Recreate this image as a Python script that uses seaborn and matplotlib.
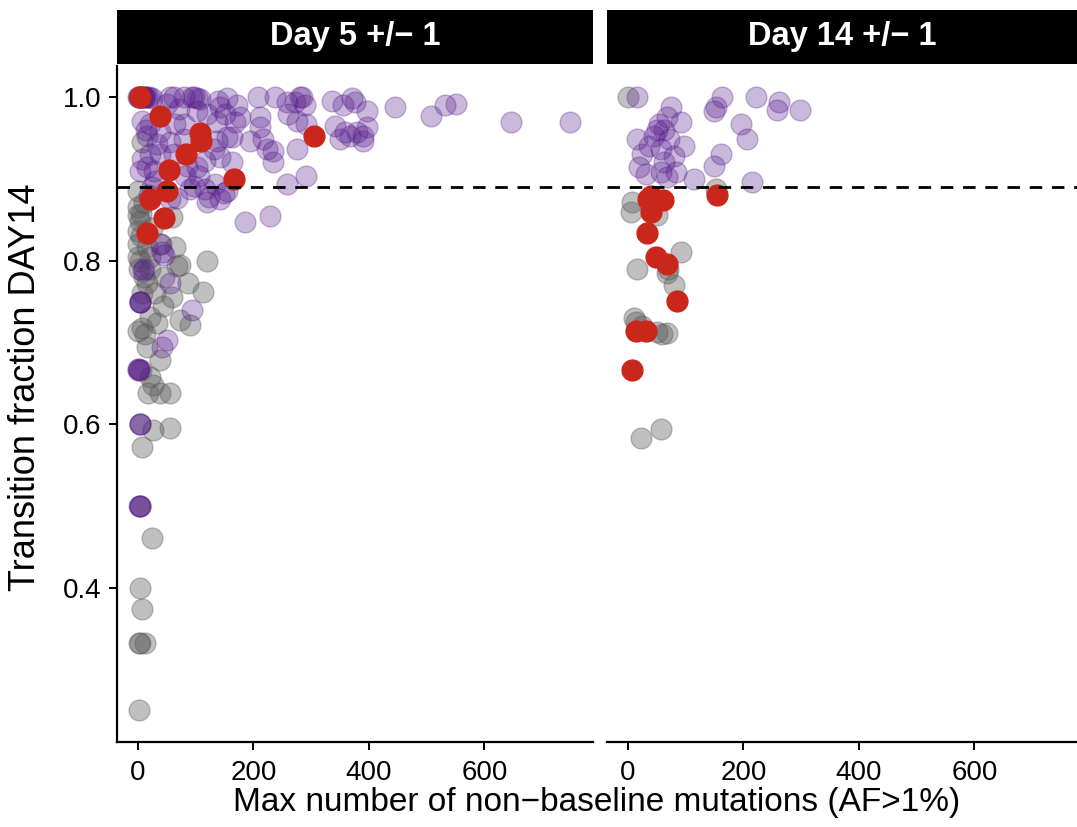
import matplotlib
matplotlib.use("Agg")
import matplotlib.pyplot as plt
from matplotlib.patches import Rectangle
import seaborn as sns
import pandas as pd

# ---------------- data ----------------
panels = ["Day 5 +/\u2212 1", "Day 14 +/\u2212 1"]
threshold = 0.89

# Day 5 panel
d5_grey_x = [0, 0, 0, 3, 0, 0, 0, 16, 64, 59, 119, 2, 21, 73, 3, 21, 68, 16, 87, 113, 59, 43, 21, 73, 90,
             7, 33, 16, 38, 21, 26, 17, 38, 55, 26, 55, 7, 24, 3, 7, 3, 12, 2, 0, 5, 10, 5, 10, 8, 30,
             45, 40, 25, 12, 8, 3, 4, 2, 4, 6]
d5_grey_y = [0.885, 0.865, 0.856, 0.848, 0.836, 0.82, 0.805, 0.816, 0.816, 0.853, 0.799, 0.79, 0.79, 0.795,
             0.8, 0.805, 0.793, 0.773, 0.773, 0.762, 0.755, 0.744, 0.731, 0.728, 0.721, 0.718, 0.724, 0.695,
             0.679, 0.658, 0.648, 0.638, 0.638, 0.638, 0.593, 0.596, 0.572, 0.461, 0.4, 0.375, 0.333, 0.333,
             0.251, 0.714, 0.857, 0.87, 0.83, 0.78, 0.76, 0.76, 0.78, 0.82, 0.84, 0.71, 0.945, 0.6, 0.5,
             0.333, 0.75, 0.667]

d5_purple_x = [0, 2, 4, 6, 8, 10, 13, 16, 20, 24, 55, 62, 80, 93, 97, 102, 107, 50, 71, 102, 119, 138, 142,
               151, 154, 171, 168, 137, 177, 208, 237, 258, 272, 280, 284, 289, 260, 275, 292, 336, 355,
               370, 376, 396, 445, 508, 531, 551, 646, 748, 341, 358, 367, 379, 390, 396, 350, 390, 211,
               211, 194, 216, 234, 234, 223, 275, 163, 292, 258, 185, 229, 21, 16, 38, 64, 80, 33, 55, 80,
               137, 154, 132, 142, 163, 116, 102, 85, 21, 7, 38, 62, 16, 28, 3, 81, 106, 97, 116, 133, 123,
               149, 29, 68, 24, 19, 38, 10, 45, 42, 9, 55, 3, 4, 94, 50, 42, 0, 2, 3, 2, 3, 119, 142, 90,
               154, 55, 3, 2, 1, 3, 3, 2, 5, 10, 14, 8]
d5_purple_y = [1.0, 1.0, 1.0, 1.0, 1.0, 1.0, 1.0, 1.0, 1.0, 0.998, 1.0, 1.0, 1.0, 1.0, 1.0, 0.998, 0.997,
               0.991, 0.985, 0.983, 0.979, 0.995, 0.988, 0.979, 0.998, 0.99, 0.969, 0.969, 0.975, 1.0, 1.0,
               0.994, 0.994, 1.0, 1.0, 0.99, 0.979, 0.97, 0.967, 0.995, 0.99, 0.998, 0.994, 0.983, 0.988,
               0.977, 0.99, 0.991, 0.969, 0.969, 0.964, 0.957, 0.952, 0.957, 0.952, 0.963, 0.948, 0.946,
               0.975, 0.963, 0.946, 0.948, 0.934, 0.92, 0.936, 0.936, 0.951, 0.903, 0.893, 0.847, 0.854,
               0.967, 0.952, 0.957, 0.967, 0.967, 0.942, 0.945, 0.948, 0.946, 0.951, 0.936, 0.926, 0.92,
               0.921, 0.914, 0.915, 0.93, 0.924, 0.93, 0.93, 0.914, 0.909, 0.909, 0.903, 0.903, 0.891,
               0.887, 0.893, 0.878, 0.883, 0.897, 0.877, 0.89, 0.88, 0.82, 0.79, 0.807, 0.81, 0.787, 0.773,
               0.75, 0.75, 0.74, 0.703, 0.695, 0.668, 0.668, 0.601, 0.5, 0.5, 0.871, 0.875, 0.887, 0.885,
               0.875, 0.75, 0.667, 0.667, 0.6, 0.5, 1.0, 1.0, 1.0, 0.96, 0.97]

d5_red_x = [3, 38, 107, 110, 83, 54, 166, 50, 21, 45, 16, 305]
d5_red_y = [1.0, 0.977, 0.956, 0.946, 0.93, 0.91, 0.90, 0.885, 0.875, 0.852, 0.834, 0.952]

# Day 14 panel
d14_grey_x = [0, 7, 5, 50, 16, 92, 68, 80, 10, 15, 50, 68, 60, 22, 57, 152, 25, 70]
d14_grey_y = [1.0, 0.871, 0.859, 0.856, 0.79, 0.811, 0.785, 0.77, 0.73, 0.725, 0.713, 0.712, 0.71, 0.584,
              0.595, 0.887, 0.72, 0.79]

d14_purple_x = [16, 74, 163, 152, 149, 222, 262, 258, 298, 92, 54, 68, 196, 206, 16, 45, 71, 97, 36, 57, 80,
                24, 62, 19, 57, 83, 114, 161, 149, 215, 68, 31, 62, 50]
d14_purple_y = [1.0, 0.988, 1.0, 0.988, 0.982, 1.0, 0.994, 0.984, 0.984, 0.969, 0.967, 0.975, 0.967, 0.948,
                0.948, 0.952, 0.948, 0.94, 0.94, 0.936, 0.928, 0.93, 0.92, 0.914, 0.908, 0.908, 0.899, 0.93,
                0.915, 0.896, 0.902, 0.906, 0.96, 0.96]

d14_red_x = [40, 61, 40, 33, 154, 48, 68, 85, 14, 31, 7, 35]
d14_red_y = [0.879, 0.874, 0.859, 0.834, 0.88, 0.805, 0.796, 0.751, 0.714, 0.714, 0.667, 0.875]

x_ticks = [0, 200, 400, 600]
y_ticks = [0.4, 0.6, 0.8, 1.0]
y_ticklabels = ["0.4", "0.6", "0.8", "1.0"]

# ---------------- build frame ----------------
rows = []
def add(panel, group, xs, ys):
    for a, b in zip(xs, ys):
        rows.append({"panel": panel, "group": group, "x": a, "y": b})

add(panels[0], "grey", d5_grey_x, d5_grey_y)
add(panels[0], "purple", d5_purple_x, d5_purple_y)
add(panels[0], "red", d5_red_x, d5_red_y)
add(panels[1], "grey", d14_grey_x, d14_grey_y)
add(panels[1], "purple", d14_purple_x, d14_purple_y)
add(panels[1], "red", d14_red_x, d14_red_y)
df = pd.DataFrame(rows)

styles = {
    "grey": dict(color="#5a5a5a", alpha=0.38),
    "purple": dict(color="#551A8B", alpha=0.30),
    "red": dict(color="#C9261C", alpha=1.0),
}

# ---------------- figure ----------------
sns.set_theme(style="white")
plt.rcParams["font.family"] = ["Liberation Sans", "DejaVu Sans"]

W, H = 1077, 827
fig = plt.figure(figsize=(W / 100, H / 100), dpi=100)

def frac_box(x0, y0, x1, y1):
    return [x0 / W, 1 - y1 / H, (x1 - x0) / W, (y1 - y0) / H]

ax_l = fig.add_axes(frac_box(117, 66, 593, 742))
ax_r = fig.add_axes(frac_box(607, 66, 1083, 742))

for ax, panel in zip([ax_l, ax_r], panels):
    sub = df[df["panel"] == panel]
    for g in ["grey", "purple", "red"]:
        s = sub[sub["group"] == g]
        st = styles[g]
        sns.scatterplot(data=s, x="x", y="y", ax=ax, color=st["color"], alpha=st["alpha"],
                        s=225, edgecolor=st["color"], linewidth=1.0, legend=False, zorder=3)
    ax.axhline(threshold, color="black", lw=2.0, dashes=(4.5, 3.5), zorder=4)
    ax.set_xlim(-36, 788)
    ax.set_ylim(0.2125, 1.0375)
    ax.set_xticks(x_ticks)
    ax.set_xticklabels([str(t) for t in x_ticks])
    ax.set_xlabel("")
    ax.set_ylabel("")
    ax.set_facecolor("white")
    for sp in ax.spines.values():
        sp.set_visible(False)
    ax.spines["bottom"].set_visible(True)
    ax.spines["bottom"].set_color("black")
    ax.spines["bottom"].set_linewidth(1.6)
    ax.tick_params(axis="x", which="both", bottom=True, length=6, width=1.4, color="black",
                   labelsize=20, labelcolor="black", pad=7)
    ax.grid(False)

ax_l.spines["left"].set_visible(True)
ax_l.spines["left"].set_color("black")
ax_l.spines["left"].set_linewidth(1.6)
ax_l.set_yticks(y_ticks)
ax_l.set_yticklabels(y_ticklabels)
ax_l.tick_params(axis="y", left=True, length=6, width=1.4, color="black",
                 labelsize=20, labelcolor="black", pad=5)
ax_l.set_ylabel("Transition fraction DAY14", fontsize=26, color="black")
ax_l.yaxis.set_label_coords(-0.156, 0.525)
ax_r.set_yticks([])
ax_r.tick_params(axis="y", left=False, labelleft=False)

# strips
for (x0, x1), label in zip([(117, 593), (607, 1077)], panels):
    b = frac_box(x0, 10, x1, 64)
    fig.add_artist(Rectangle((b[0], b[1]), b[2], b[3], transform=fig.transFigure,
                             facecolor="black", edgecolor="none"))
    fig.text(b[0] + b[2] / 2, b[1] + b[3] / 2, label, color="white", fontsize=23.5,
             fontweight="bold", ha="center", va="center")

fig.text(597 / W, 1 - 803 / H, "Max number of non\u2212baseline mutations (AF>1%)",
         fontsize=24, color="black", ha="center", va="center")

fig.savefig("out.png", dpi=100, facecolor="white")
